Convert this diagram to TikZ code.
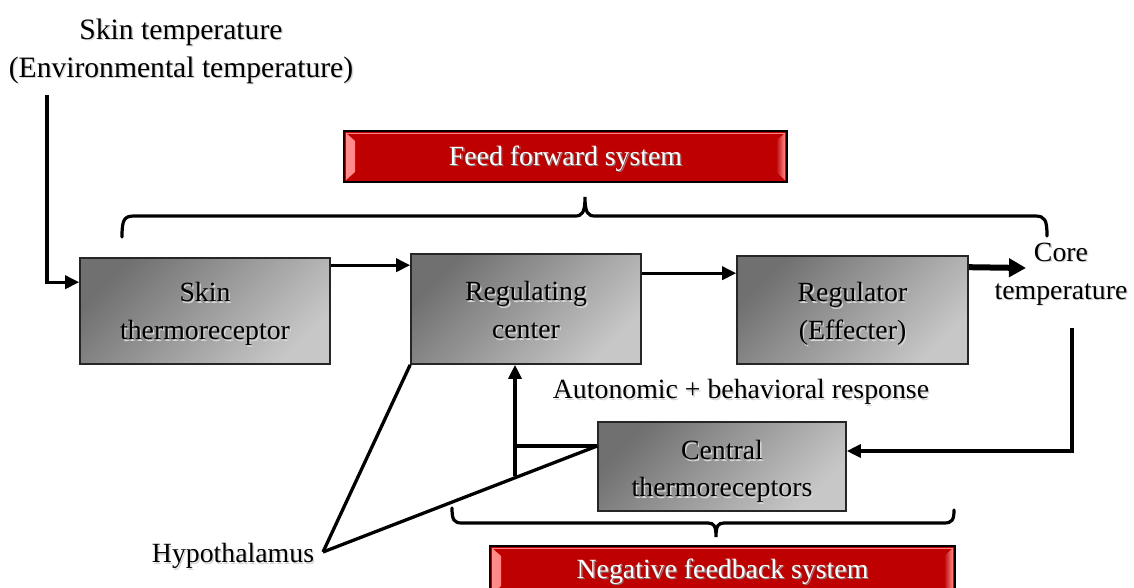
\documentclass[tikz,border=0pt]{standalone}
\usepackage{fontspec}
\setmainfont{Liberation Serif}
\usetikzlibrary{arrows.meta,calc}

% soft drop shadow under a line of text
\newcommand{\shd}[2][black!16]{\makebox[0pt][l]{\kern1.4pt\raisebox{-1.4pt}{\textcolor{#1}{#2}}}#2}
% lower a line of text without changing its box
\newcommand{\low}[2]{\raisebox{-#1}[\height][\depth]{#2}}

\begin{document}
\begin{tikzpicture}[x=1pt,y=-1pt,
  font=\fontsize{27.8}{38}\selectfont,
  graybox/.style={draw=black!85, line width=1.6pt, shading=axis,
    top color=black!56, bottom color=black!22, shading angle=45,
    align=center, inner sep=0pt},
  redbox/.style={draw=black, line width=2pt, fill=red!75!black,
    text=white, align=center, inner sep=0pt,
    path picture={
      \shade[left color=red!45!white, right color=red!75!black]
        ([xshift=2pt,yshift=-2pt]path picture bounding box.north west)
        -- ([xshift=11pt,yshift=-10pt]path picture bounding box.north west)
        -- ([xshift=11pt,yshift=10pt]path picture bounding box.south west)
        -- ([xshift=2pt,yshift=2pt]path picture bounding box.south west) -- cycle;
      \shade[right color=red!45!white, left color=red!75!black]
        ([xshift=-2pt,yshift=-2pt]path picture bounding box.north east)
        -- ([xshift=-11pt,yshift=-10pt]path picture bounding box.north east)
        -- ([xshift=-11pt,yshift=10pt]path picture bounding box.south east)
        -- ([xshift=-2pt,yshift=2pt]path picture bounding box.south east) -- cycle;
      \draw[red!50!white, line width=0.8pt]
        ([xshift=2pt,yshift=-2pt]path picture bounding box.north west)
        -- ([xshift=-2pt,yshift=-2pt]path picture bounding box.north east);
    }},
  conn/.style={line width=3.3pt},
  arrow/.style={conn, -{Triangle[length=14pt,width=13pt]}},
  bigarrow/.style={line width=6pt, -{Triangle[length=17pt,width=18pt]}},
  brace/.style={line width=3.2pt, line cap=round}]

\useasboundingbox (0,0) rectangle (1134,588);

% red labels
\node[redbox, minimum width=443pt, minimum height=51pt] (ff) at (565.5,156.5)
  {\low{3pt}{\shd[black!50]{Feed forward system}}};
\node[redbox, minimum width=465pt, minimum height=50pt] (nf) at (722.5,571)
  {\low{1pt}{\shd[black!50]{Negative feedback system}}};

% blocks
\node[graybox, minimum width=250pt, minimum height=106pt] (skin) at (205,311)
  {\low{4pt}{\shd{Skin}}\\\low{4pt}{\shd{thermoreceptor}}};
\node[graybox, minimum width=230pt, minimum height=110pt] (rc) at (526,309)
  {\low{2pt}{\shd{Regulating}}\\\low{2pt}{\shd{center}}};
\node[graybox, minimum width=231pt, minimum height=108pt] (reg) at (852.5,310)
  {\low{5pt}{\shd{Regulator}}\\\low{5pt}{\shd{(Effecter)}}};
\node[graybox, minimum width=248pt, minimum height=89pt, font=\fontsize{27.8}{37}\selectfont] (ct) at (722,466.5)
  {\low{6pt}{\shd{Central}}\\\low{6pt}{\shd{thermoreceptors}}};

% free text
\node[align=center, font=\fontsize{29.6}{38}\selectfont] (skintemp) at (181,52)
  {\shd{Skin temperature}\\\shd{(Environmental temperature)}};
\node[align=center] (core) at (1061,275) {\shd{Core}\\\shd{temperature}};
\node (hypo) at (233,557) {\shd{Hypothalamus}};
\node (auto) at (741,393) {\shd{Autonomic + behavioral response}};

% connector end points
\coordinate (in) at (47,95);
\coordinate (coreIn) at (1026,268);
\coordinate (fb) at (1072,328);
\coordinate (j) at (515,446);
\coordinate (jb) at (515,476);
\coordinate (hp) at (323,552);

% forward path
\draw[arrow] (in) |- ([yshift=-25pt]skin.north west);
\draw[arrow] ([yshift=-8pt]skin.north east) -- ([yshift=-12pt]rc.north west);
\draw[arrow] ([yshift=-20pt]rc.north east) -- ([yshift=-18pt]reg.north west);
\draw[bigarrow] ([yshift=-12pt]reg.north east) -- (coreIn);

% feedback path
\draw[arrow] (fb) |- ([yshift=15.5pt]ct.east);
\draw[conn] ([yshift=20.5pt]ct.west) -- (j);
\draw[arrow] (jb) -- (rc.south -| jb);

% hypothalamus pointers
\draw[conn] (hp) -- (rc.south west);
\draw[conn] (hp) -- ([yshift=20.5pt]ct.west);

% braces
\draw[brace] (122,237) .. controls (122,220) and (124,216) .. (134,216)
  -- (575,216) .. controls (582,216) and (585,213) .. (585,197)
  .. controls (585,213) and (588,216) .. (595,216)
  -- (1035,216) .. controls (1045,216) and (1047,220) .. (1047,236);
\draw[brace] (452,508) .. controls (452,520) and (454,523) .. (462,523)
  -- (708,523) .. controls (714,523) and (716,526) .. (716,537)
  .. controls (716,526) and (718,523) .. (724,523)
  -- (944,523) .. controls (952,523) and (954,520) .. (954,510);
\end{tikzpicture}
\end{document}
